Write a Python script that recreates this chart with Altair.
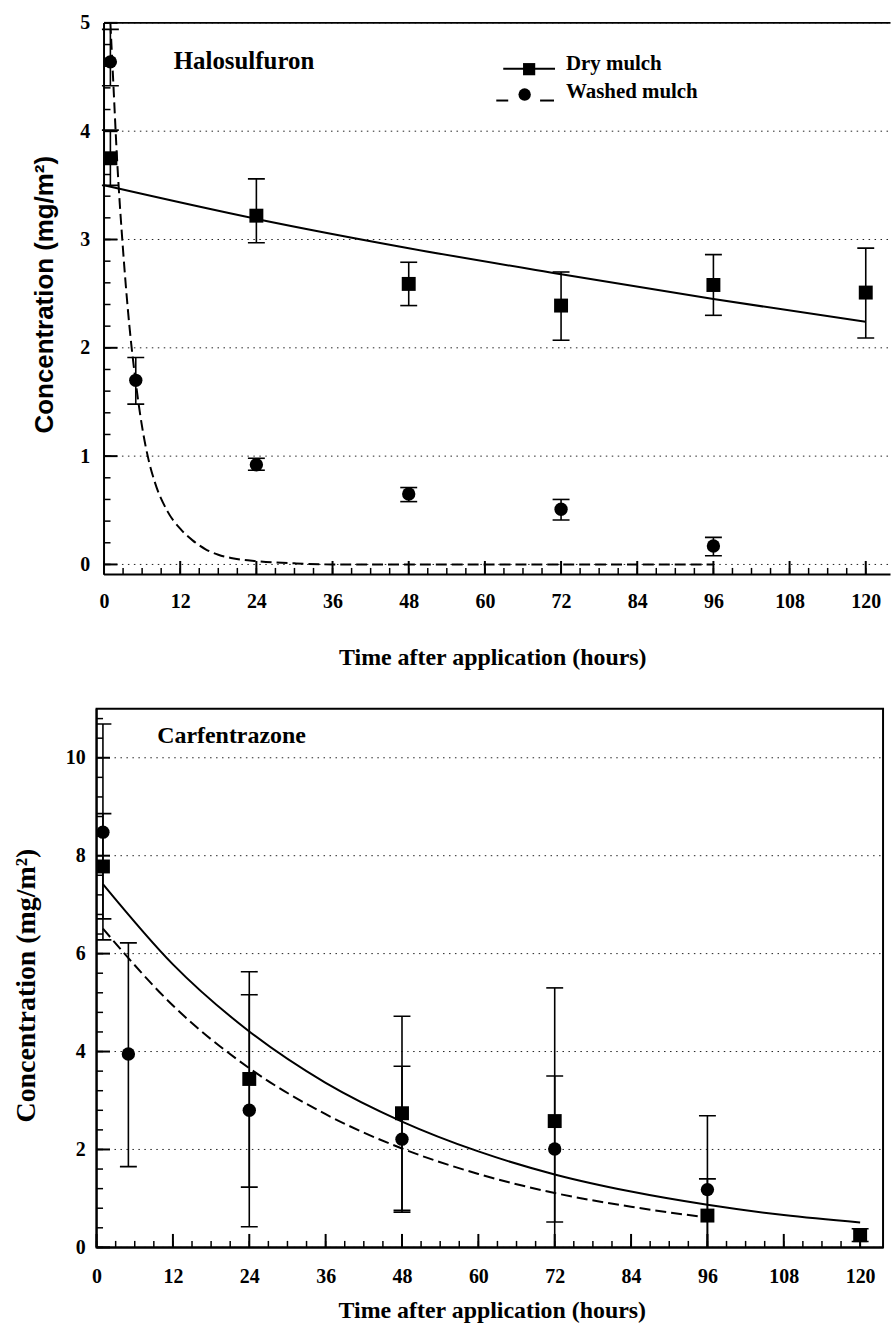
import altair as alt
import pandas as pd

# ---------------- data ----------------
series = ["Dry mulch", "Washed mulch"]
x_major = [0, 12, 24, 36, 48, 60, 72, 84, 96, 108, 120]
x_minor = list(range(0, 121, 3))

# Halosulfuron (top panel)
h_y_major = [0, 1, 2, 3, 4, 5]
h_y_minor = [i / 5 for i in range(0, 26)]
h_dry_t = [1, 24, 48, 72, 96, 120]
h_dry = [3.75, 3.22, 2.59, 2.39, 2.58, 2.51]
h_dry_lo = [3.50, 2.97, 2.39, 2.07, 2.30, 2.09]
h_dry_hi = [4.01, 3.56, 2.79, 2.70, 2.86, 2.92]
h_wash_t = [1, 5, 24, 48, 72, 96]
h_wash = [4.64, 1.70, 0.92, 0.65, 0.51, 0.17]
h_wash_lo = [4.42, 1.48, 0.87, 0.58, 0.41, 0.08]
h_wash_hi = [4.94, 1.91, 0.98, 0.71, 0.60, 0.25]
h_fit_dry_t = [0, 24, 48, 72, 96, 120]
h_fit_dry = [3.50, 3.19, 2.92, 2.68, 2.45, 2.24]
h_fit_wash_t = [1, 1.5, 2, 3, 4, 5, 6, 7, 8, 10, 12, 14, 16, 18, 20, 24, 30, 36, 48, 72, 96]
h_fit_wash = [5.0, 4.4, 3.8, 2.9, 2.2, 1.68, 1.27, 0.97, 0.76, 0.49, 0.33, 0.22, 0.14,
              0.09, 0.06, 0.03, 0.01, 0.0, 0.0, 0.0, 0.0]

# Carfentrazone (bottom panel)
c_y_major = [0, 2, 4, 6, 8, 10]
c_y_minor = [i * 0.4 for i in range(0, 28)]
c_dry_t = [1, 24, 48, 72, 96, 120]
c_dry = [7.78, 3.44, 2.74, 2.58, 0.65, 0.25]
c_dry_lo = [6.71, 1.23, 0.76, -0.14, -0.10, 0.12]
c_dry_hi = [8.86, 5.63, 4.72, 5.30, 1.40, 0.38]
c_wash_t = [1, 5, 24, 48, 72, 96]
c_wash = [8.48, 3.95, 2.80, 2.21, 2.01, 1.18]
c_wash_lo = [6.28, 1.65, 0.42, 0.72, 0.52, -0.33]
c_wash_hi = [10.69, 6.22, 5.16, 3.70, 3.50, 2.69]
c_fit_dry_t = [1, 12, 24, 36, 48, 60, 72, 84, 96, 108, 120]
c_fit_dry = [7.42, 5.78, 4.41, 3.36, 2.57, 1.96, 1.49, 1.14, 0.87, 0.66, 0.51]
c_fit_wash_t = [1, 12, 24, 36, 48, 60, 72, 84, 96]
c_fit_wash = [6.51, 4.94, 3.66, 2.72, 2.02, 1.50, 1.11, 0.83, 0.61]

SERIF = "Liberation Serif"
SANS = "Liberation Sans"


def make_panel(p):
    H = p["height"]
    W = p["width"]
    x0 = p["x0px"]  # pixel offset of t = 0 from the left edge of the plot area
    xs = alt.Scale(domain=p["xdom"], nice=False, zero=False)
    ys = alt.Scale(domain=p["ydom"], nice=False, zero=False)

    def X(f):
        return alt.X(f"{f}:Q", scale=xs, axis=alt.Axis(
            values=x_major, ticks=False, tickSize=0, grid=False, domain=False,
            labelFont=SERIF, labelFontSize=20, labelFontWeight="bold", labelColor="black",
            labelPadding=p["xlabpad"], labelBaseline="alphabetic", labelFlush=False,
            labelOverlap=False,
            title="Time after application (hours)", titleFont=SERIF, titleFontSize=24,
            titleFontWeight="bold", titleColor="black", titleX=p["xtitle"][0],
            titleY=p["xtitle"][1], titleAlign="center", titleBaseline="alphabetic"))

    def Y(f):
        return alt.Y(f"{f}:Q", scale=ys, axis=alt.Axis(
            values=p["y_major"], ticks=False, tickSize=0, grid=False, domain=False,
            labelFont=SERIF, labelFontSize=20, labelFontWeight="bold", labelColor="black",
            labelPadding=p["ylabpad"], labelFlush=False, labelOverlap=False,
            title="Concentration (mg/m²)", titleFont=p["ytfont"], titleFontSize=p["ytsize"],
            titleFontWeight="bold", titleColor="black", titleX=p["ytitle"][0],
            titleY=p["ytitle"][1], titleAngle=270, titleAlign="center", titleBaseline="middle"))

    dry = pd.DataFrame({"t": p["dry_t"], "v": p["dry"], "lo": p["dry_lo"], "hi": p["dry_hi"]})
    wash = pd.DataFrame({"t": p["wash_t"], "v": p["wash"], "lo": p["wash_lo"], "hi": p["wash_hi"]})
    fdry = pd.DataFrame({"t": p["fit_dry_t"], "v": p["fit_dry"]})
    fwash = pd.DataFrame({"t": p["fit_wash_t"], "v": p["fit_wash"]})
    one = pd.DataFrame({"k": [0]})
    origin = pd.DataFrame({"t": [0]})
    grid = pd.DataFrame({"v": p["y_major"], "t": [0] * len(p["y_major"])})

    layers = []
    bx = p["box"]
    # invisible box fixing the panel's extent in the page
    layers.append(alt.Chart(one).mark_rect(opacity=0).encode(
        x=alt.value(bx[0]), x2=alt.value(bx[1]), y=alt.value(bx[2]), y2=alt.value(bx[3])))
    # dotted horizontal grid, starting at the y axis
    layers.append(alt.Chart(grid).mark_rule(color="#222222", strokeWidth=1,
                                            strokeDash=[1.5, 4.5]).encode(
        y=Y("v"), x=X("t"), x2=alt.value(W)))
    # axis lines
    layers.append(alt.Chart(origin).mark_rule(color="black", strokeWidth=2).encode(
        x=X("t"), y=alt.value(0), y2=alt.value(H)))
    layers.append(alt.Chart(origin).mark_rule(color="black", strokeWidth=2).encode(
        x=X("t"), x2=alt.value(W), y=alt.value(H)))
    if p["topline"]:
        layers.append(alt.Chart(origin).mark_rule(color="black", strokeWidth=2).encode(
            x=X("t"), x2=alt.value(W), y=alt.value(0)))
    # inward ticks
    layers.append(alt.Chart(pd.DataFrame({"v": p["y_minor"]})).mark_rule(
        color="black", strokeWidth=1.5).encode(y=Y("v"), x=alt.value(x0), x2=alt.value(x0 + 6.5)))
    layers.append(alt.Chart(pd.DataFrame({"v": p["y_major"]})).mark_rule(
        color="black", strokeWidth=2).encode(y=Y("v"), x=alt.value(x0), x2=alt.value(x0 + 13.5)))
    layers.append(alt.Chart(pd.DataFrame({"t": x_minor})).mark_rule(
        color="black", strokeWidth=1.5).encode(x=X("t"), y=alt.value(H), y2=alt.value(H - 6.5)))
    layers.append(alt.Chart(pd.DataFrame({"t": x_major})).mark_rule(
        color="black", strokeWidth=2).encode(x=X("t"), y=alt.value(H), y2=alt.value(H - 13.5)))
    # panel name
    layers.append(alt.Chart(one).mark_text(
        text=p["title"], align="left", baseline="alphabetic", font=SERIF, fontSize=p["tsize"],
        fontWeight="bold", color="black").encode(x=alt.value(x0 + p["tpos"][0]),
                                                 y=alt.value(p["tpos"][1])))
    # fitted curves
    layers.append(alt.Chart(fdry).mark_line(color="black", strokeWidth=2, interpolate="monotone",
                                            clip=True).encode(x=X("t"), y=Y("v")))
    layers.append(alt.Chart(fwash).mark_line(color="black", strokeWidth=2, strokeDash=[11, 5],
                                             interpolate="monotone", clip=True).encode(x=X("t"), y=Y("v")))
    # error bars
    for df in (dry, wash):
        layers.append(alt.Chart(df).mark_rule(color="black", strokeWidth=1.6, clip=True).encode(
            x=X("t"), y=Y("lo"), y2="hi"))
        for f in ("lo", "hi"):
            layers.append(alt.Chart(df).mark_tick(color="black", orient="horizontal", size=17,
                                                  thickness=1.6, opacity=1, clip=True).encode(
                x=X("t"), y=Y(f)))
    # points
    layers.append(alt.Chart(dry).mark_point(shape="square", filled=True, size=196, color="black",
                                            opacity=1).encode(x=X("t"), y=Y("v")))
    layers.append(alt.Chart(wash).mark_point(shape="circle", filled=True, size=180, color="black",
                                             opacity=1).encode(x=X("t"), y=Y("v")))
    if p["legend"]:
        # key: line + square for dry mulch, dashes + circle for washed mulch
        lx = x0
        layers.append(alt.Chart(one).mark_rule(color="black", strokeWidth=2).encode(
            x=alt.value(lx + 401), x2=alt.value(lx + 453), y=alt.value(46)))
        layers.append(alt.Chart(one).mark_rule(color="black", strokeWidth=2).encode(
            x=alt.value(lx + 394), x2=alt.value(lx + 406), y=alt.value(78)))
        layers.append(alt.Chart(one).mark_rule(color="black", strokeWidth=2).encode(
            x=alt.value(lx + 438), x2=alt.value(lx + 452), y=alt.value(78)))
        layers.append(alt.Chart(one).mark_point(shape="square", filled=True, size=150,
                                                color="black", opacity=1).encode(
            x=alt.value(lx + 427), y=alt.value(46.5)))
        layers.append(alt.Chart(one).mark_point(shape="circle", filled=True, size=155,
                                                color="black", opacity=1).encode(
            x=alt.value(lx + 422.5), y=alt.value(72)))
        for name, yy in zip(series, (47, 75)):
            layers.append(alt.Chart(one).mark_text(
                text=name, align="left", baseline="alphabetic", font=SERIF, fontSize=21,
                fontWeight="bold", color="black").encode(x=alt.value(lx + 464), y=alt.value(yy)))

    return alt.layer(*layers).properties(
        width=W, height=H,
        view=alt.ViewBackground(stroke=p["stroke"], strokeWidth=2))


# top panel: plot area starts 7.5 px left of its y axis so both panels share one origin
top = make_panel(dict(
    height=554, width=797.5, x0px=7.5, xdom=[-1.176, 123.9], ydom=[-0.092, 5.0],
    y_major=h_y_major, y_minor=h_y_minor,
    dry_t=h_dry_t, dry=h_dry, dry_lo=h_dry_lo, dry_hi=h_dry_hi,
    wash_t=h_wash_t, wash=h_wash, wash_lo=h_wash_lo, wash_hi=h_wash_hi,
    fit_dry_t=h_fit_dry_t, fit_dry=h_fit_dry, fit_wash_t=h_fit_wash_t, fit_wash=h_fit_wash,
    xlabpad=33, ylabpad=7, xtitle=(397.5, 90), ytfont=SANS, ytsize=26, ytitle=(-52, 272.5),
    box=(-95.5, 797.5, -19, 668), topline=True, legend=True, title="Halosulfuron",
    tpos=(70, 46), tsize=25, stroke="transparent"))

bottom = make_panel(dict(
    height=541, width=790, x0px=0, xdom=[0, 123.6], ydom=[0, 11],
    y_major=c_y_major, y_minor=c_y_minor,
    dry_t=c_dry_t, dry=c_dry, dry_lo=c_dry_lo, dry_hi=c_dry_hi,
    wash_t=c_wash_t, wash=c_wash, wash_lo=c_wash_lo, wash_hi=c_wash_hi,
    fit_dry_t=c_fit_dry_t, fit_dry=c_fit_dry, fit_wash_t=c_fit_wash_t, fit_wash=c_fit_wash,
    xlabpad=35, ylabpad=11.5, xtitle=(397, 70), ytfont=SERIF, ytsize=28, ytitle=(-70, 277.5),
    box=(-95.5, 797.5, -19, 620), topline=False, legend=False, title="Carfentrazone",
    tpos=(61, 34), tsize=24, stroke="black"))

chart = alt.vconcat(top, bottom, spacing=0).properties(padding=0, background="white")

chart.save("out.html", embed_options={"renderer": "svg", "actions": False})
